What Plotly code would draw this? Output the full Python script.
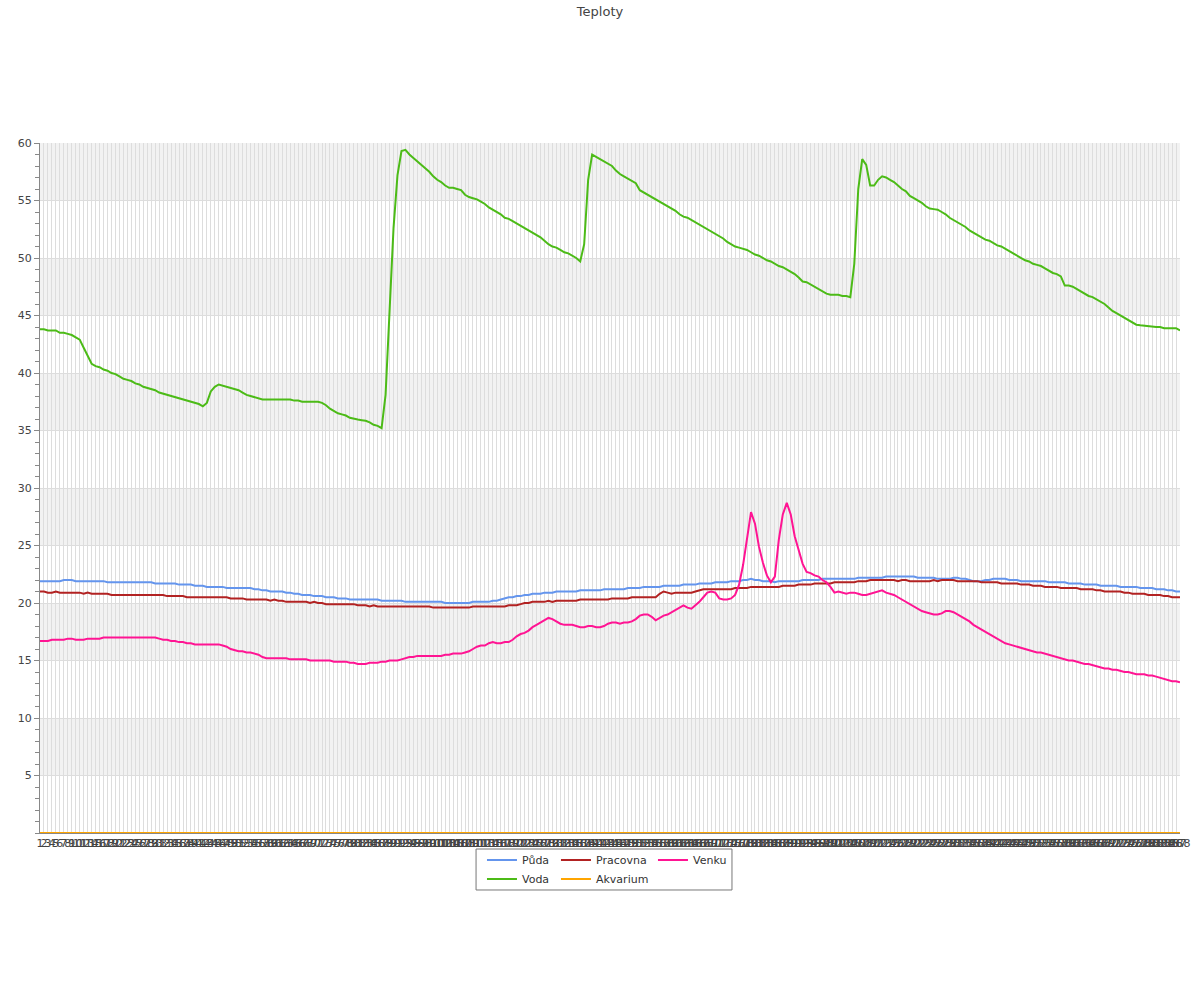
import plotly.graph_objects as go

# ---------------- data ----------------
categories = [str(i) for i in range(1, 289)]

puda = [
    21.9, 21.9, 21.9, 21.9, 21.9, 21.9, 22.0, 22.0, 22.0, 21.9,
    21.9, 21.9, 21.9, 21.9, 21.9, 21.9, 21.9, 21.8, 21.8, 21.8,
    21.8, 21.8, 21.8, 21.8, 21.8, 21.8, 21.8, 21.8, 21.8, 21.7,
    21.7, 21.7, 21.7, 21.7, 21.7, 21.6, 21.6, 21.6, 21.6, 21.5,
    21.5, 21.5, 21.4, 21.4, 21.4, 21.4, 21.4, 21.3, 21.3, 21.3,
    21.3, 21.3, 21.3, 21.3, 21.2, 21.2, 21.1, 21.1, 21.0, 21.0,
    21.0, 21.0, 20.9, 20.9, 20.8, 20.8, 20.7, 20.7, 20.7, 20.6,
    20.6, 20.6, 20.5, 20.5, 20.5, 20.4, 20.4, 20.4, 20.3, 20.3,
    20.3, 20.3, 20.3, 20.3, 20.3, 20.3, 20.2, 20.2, 20.2, 20.2,
    20.2, 20.2, 20.1, 20.1, 20.1, 20.1, 20.1, 20.1, 20.1, 20.1,
    20.1, 20.1, 20.0, 20.0, 20.0, 20.0, 20.0, 20.0, 20.0, 20.1,
    20.1, 20.1, 20.1, 20.1, 20.2, 20.2, 20.3, 20.4, 20.5, 20.5,
    20.6, 20.6, 20.7, 20.7, 20.8, 20.8, 20.8, 20.9, 20.9, 20.9,
    21.0, 21.0, 21.0, 21.0, 21.0, 21.0, 21.1, 21.1, 21.1, 21.1,
    21.1, 21.1, 21.2, 21.2, 21.2, 21.2, 21.2, 21.2, 21.3, 21.3,
    21.3, 21.3, 21.4, 21.4, 21.4, 21.4, 21.4, 21.5, 21.5, 21.5,
    21.5, 21.5, 21.6, 21.6, 21.6, 21.6, 21.7, 21.7, 21.7, 21.7,
    21.8, 21.8, 21.8, 21.8, 21.9, 21.9, 21.9, 22.0, 22.0, 22.1,
    22.0, 22.0, 21.9, 21.9, 21.9, 21.8, 21.9, 21.9, 21.9, 21.9,
    21.9, 21.9, 22.0, 22.0, 22.0, 22.0, 22.0, 22.1, 22.1, 22.1,
    22.1, 22.1, 22.1, 22.1, 22.1, 22.1, 22.2, 22.2, 22.2, 22.2,
    22.2, 22.2, 22.2, 22.3, 22.3, 22.3, 22.3, 22.3, 22.3, 22.3,
    22.3, 22.2, 22.2, 22.2, 22.2, 22.2, 22.1, 22.1, 22.1, 22.1,
    22.2, 22.2, 22.1, 22.1, 22.0, 21.9, 21.9, 21.9, 22.0, 22.0,
    22.1, 22.1, 22.1, 22.1, 22.0, 22.0, 22.0, 21.9, 21.9, 21.9,
    21.9, 21.9, 21.9, 21.9, 21.8, 21.8, 21.8, 21.8, 21.8, 21.7,
    21.7, 21.7, 21.7, 21.6, 21.6, 21.6, 21.6, 21.5, 21.5, 21.5,
    21.5, 21.5, 21.4, 21.4, 21.4, 21.4, 21.4, 21.3, 21.3, 21.3,
    21.3, 21.2, 21.2, 21.2, 21.1, 21.1, 21.0, 21.0,
]

pracovna = [
    21.0, 21.0, 20.9, 20.9, 21.0, 20.9, 20.9, 20.9, 20.9, 20.9,
    20.9, 20.8, 20.9, 20.8, 20.8, 20.8, 20.8, 20.8, 20.7, 20.7,
    20.7, 20.7, 20.7, 20.7, 20.7, 20.7, 20.7, 20.7, 20.7, 20.7,
    20.7, 20.7, 20.6, 20.6, 20.6, 20.6, 20.6, 20.5, 20.5, 20.5,
    20.5, 20.5, 20.5, 20.5, 20.5, 20.5, 20.5, 20.5, 20.4, 20.4,
    20.4, 20.4, 20.3, 20.3, 20.3, 20.3, 20.3, 20.3, 20.2, 20.3,
    20.2, 20.2, 20.1, 20.1, 20.1, 20.1, 20.1, 20.1, 20.0, 20.1,
    20.0, 20.0, 19.9, 19.9, 19.9, 19.9, 19.9, 19.9, 19.9, 19.9,
    19.8, 19.8, 19.8, 19.7, 19.8, 19.7, 19.7, 19.7, 19.7, 19.7,
    19.7, 19.7, 19.7, 19.7, 19.7, 19.7, 19.7, 19.7, 19.7, 19.6,
    19.6, 19.6, 19.6, 19.6, 19.6, 19.6, 19.6, 19.6, 19.6, 19.7,
    19.7, 19.7, 19.7, 19.7, 19.7, 19.7, 19.7, 19.7, 19.8, 19.8,
    19.8, 19.9, 20.0, 20.0, 20.1, 20.1, 20.1, 20.1, 20.2, 20.1,
    20.2, 20.2, 20.2, 20.2, 20.2, 20.2, 20.3, 20.3, 20.3, 20.3,
    20.3, 20.3, 20.3, 20.3, 20.4, 20.4, 20.4, 20.4, 20.4, 20.5,
    20.5, 20.5, 20.5, 20.5, 20.5, 20.5, 20.8, 21.0, 20.9, 20.8,
    20.9, 20.9, 20.9, 20.9, 20.9, 21.0, 21.1, 21.2, 21.2, 21.2,
    21.2, 21.2, 21.2, 21.2, 21.2, 21.3, 21.3, 21.3, 21.3, 21.4,
    21.4, 21.4, 21.4, 21.4, 21.4, 21.4, 21.4, 21.5, 21.5, 21.5,
    21.5, 21.6, 21.6, 21.6, 21.6, 21.7, 21.7, 21.7, 21.7, 21.7,
    21.8, 21.8, 21.8, 21.8, 21.8, 21.8, 21.9, 21.9, 21.9, 22.0,
    22.0, 22.0, 22.0, 22.0, 22.0, 22.0, 21.9, 22.0, 22.0, 21.9,
    21.9, 21.9, 21.9, 21.9, 21.9, 22.0, 21.9, 22.0, 22.0, 22.0,
    22.0, 21.9, 21.9, 21.9, 21.9, 21.9, 21.9, 21.8, 21.8, 21.8,
    21.8, 21.8, 21.7, 21.7, 21.7, 21.7, 21.7, 21.6, 21.6, 21.6,
    21.5, 21.5, 21.5, 21.4, 21.4, 21.4, 21.4, 21.3, 21.3, 21.3,
    21.3, 21.3, 21.2, 21.2, 21.2, 21.2, 21.1, 21.1, 21.0, 21.0,
    21.0, 21.0, 21.0, 20.9, 20.9, 20.8, 20.8, 20.8, 20.8, 20.7,
    20.7, 20.7, 20.7, 20.6, 20.6, 20.5, 20.5, 20.5,
]

venku = [
    16.7, 16.7, 16.7, 16.8, 16.8, 16.8, 16.8, 16.9, 16.9, 16.8,
    16.8, 16.8, 16.9, 16.9, 16.9, 16.9, 17.0, 17.0, 17.0, 17.0,
    17.0, 17.0, 17.0, 17.0, 17.0, 17.0, 17.0, 17.0, 17.0, 17.0,
    16.9, 16.8, 16.8, 16.7, 16.7, 16.6, 16.6, 16.5, 16.5, 16.4,
    16.4, 16.4, 16.4, 16.4, 16.4, 16.4, 16.3, 16.2, 16.0, 15.9,
    15.8, 15.8, 15.7, 15.7, 15.6, 15.5, 15.3, 15.2, 15.2, 15.2,
    15.2, 15.2, 15.2, 15.1, 15.1, 15.1, 15.1, 15.1, 15.0, 15.0,
    15.0, 15.0, 15.0, 15.0, 14.9, 14.9, 14.9, 14.9, 14.8, 14.8,
    14.7, 14.7, 14.7, 14.8, 14.8, 14.8, 14.9, 14.9, 15.0, 15.0,
    15.0, 15.1, 15.2, 15.3, 15.3, 15.4, 15.4, 15.4, 15.4, 15.4,
    15.4, 15.4, 15.5, 15.5, 15.6, 15.6, 15.6, 15.7, 15.8, 16.0,
    16.2, 16.3, 16.3, 16.5, 16.6, 16.5, 16.5, 16.6, 16.6, 16.8,
    17.1, 17.3, 17.4, 17.6, 17.9, 18.1, 18.3, 18.5, 18.7, 18.6,
    18.4, 18.2, 18.1, 18.1, 18.1, 18.0, 17.9, 17.9, 18.0, 18.0,
    17.9, 17.9, 18.0, 18.2, 18.3, 18.3, 18.2, 18.3, 18.3, 18.4,
    18.6, 18.9, 19.0, 19.0, 18.8, 18.5, 18.7, 18.9, 19.0, 19.2,
    19.4, 19.6, 19.8, 19.6, 19.5, 19.8, 20.1, 20.5, 20.9, 21.0,
    20.9, 20.4, 20.3, 20.3, 20.4, 20.7, 21.6, 23.3, 25.5, 27.9,
    26.9, 24.9, 23.5, 22.4, 21.8, 22.3, 25.5, 27.7, 28.7, 27.7,
    25.8, 24.5, 23.4, 22.7, 22.6, 22.4, 22.3, 22.0, 21.8, 21.4,
    20.9, 21.0, 20.9, 20.8, 20.9, 20.9, 20.8, 20.7, 20.7, 20.8,
    20.9, 21.0, 21.1, 20.9, 20.8, 20.7, 20.5, 20.3, 20.1, 19.9,
    19.7, 19.5, 19.3, 19.2, 19.1, 19.0, 19.0, 19.1, 19.3, 19.3,
    19.2, 19.0, 18.8, 18.6, 18.4, 18.1, 17.9, 17.7, 17.5, 17.3,
    17.1, 16.9, 16.7, 16.5, 16.4, 16.3, 16.2, 16.1, 16.0, 15.9,
    15.8, 15.7, 15.7, 15.6, 15.5, 15.4, 15.3, 15.2, 15.1, 15.0,
    15.0, 14.9, 14.8, 14.7, 14.7, 14.6, 14.5, 14.4, 14.3, 14.3,
    14.2, 14.2, 14.1, 14.0, 14.0, 13.9, 13.8, 13.8, 13.8, 13.7,
    13.7, 13.6, 13.5, 13.4, 13.3, 13.2, 13.2, 13.1,
]

voda = [
    43.8, 43.8, 43.7, 43.7, 43.7, 43.5, 43.5, 43.4, 43.3, 43.1,
    42.9, 42.2, 41.5, 40.8, 40.6, 40.5, 40.3, 40.2, 40.0, 39.9,
    39.7, 39.5, 39.4, 39.3, 39.1, 39.0, 38.8, 38.7, 38.6, 38.5,
    38.3, 38.2, 38.1, 38.0, 37.9, 37.8, 37.7, 37.6, 37.5, 37.4,
    37.3, 37.1, 37.4, 38.4, 38.8, 39.0, 38.9, 38.8, 38.7, 38.6,
    38.5, 38.3, 38.1, 38.0, 37.9, 37.8, 37.7, 37.7, 37.7, 37.7,
    37.7, 37.7, 37.7, 37.7, 37.6, 37.6, 37.5, 37.5, 37.5, 37.5,
    37.5, 37.4, 37.2, 36.9, 36.7, 36.5, 36.4, 36.3, 36.1, 36.0,
    35.95, 35.9, 35.85, 35.7, 35.5, 35.4, 35.2, 38.1, 45.0, 52.6,
    57.2, 59.3, 59.4, 59.0, 58.7, 58.4, 58.1, 57.8, 57.5, 57.1,
    56.8, 56.6, 56.3, 56.1, 56.1, 56.0, 55.9, 55.5, 55.3, 55.2,
    55.1, 54.9, 54.7, 54.4, 54.2, 54.0, 53.8, 53.5, 53.4, 53.2,
    53.0, 52.8, 52.6, 52.4, 52.2, 52.0, 51.8, 51.5, 51.2, 51.0,
    50.9, 50.7, 50.5, 50.4, 50.2, 50.0, 49.7, 51.2, 56.8, 59.0,
    58.8, 58.6, 58.4, 58.2, 58.0, 57.6, 57.3, 57.1, 56.9, 56.7,
    56.5, 55.9, 55.7, 55.5, 55.3, 55.1, 54.9, 54.7, 54.5, 54.3,
    54.1, 53.8, 53.6, 53.5, 53.3, 53.1, 52.9, 52.7, 52.5, 52.3,
    52.1, 51.9, 51.7, 51.4, 51.2, 51.0, 50.9, 50.8, 50.7, 50.5,
    50.3, 50.2, 50.0, 49.8, 49.7, 49.5, 49.3, 49.2, 49.0, 48.8,
    48.6, 48.3, 47.95, 47.9, 47.7, 47.5, 47.3, 47.1, 46.9, 46.8,
    46.8, 46.8, 46.7, 46.7, 46.6, 49.5, 56.0, 58.6, 58.1, 56.3,
    56.3, 56.8, 57.1, 57.0, 56.8, 56.6, 56.3, 56.0, 55.8, 55.4,
    55.2, 55.0, 54.8, 54.5, 54.3, 54.25, 54.2, 54.0, 53.8, 53.5,
    53.3, 53.1, 52.9, 52.7, 52.4, 52.2, 52.0, 51.8, 51.6, 51.5,
    51.3, 51.1, 51.0, 50.8, 50.6, 50.4, 50.2, 50.0, 49.8, 49.7,
    49.5, 49.4, 49.3, 49.1, 48.9, 48.7, 48.6, 48.4, 47.6, 47.6,
    47.5, 47.3, 47.1, 46.9, 46.7, 46.6, 46.4, 46.2, 46.0, 45.7,
    45.4, 45.2, 45.0, 44.8, 44.6, 44.4, 44.2, 44.15, 44.1, 44.1,
    44.05, 44.0, 44.0, 43.9, 43.9, 43.9, 43.9, 43.7,
]

akvarium = [
    0, 0, 0, 0, 0, 0, 0, 0, 0, 0, 0, 0, 0, 0, 0, 0, 0, 0, 0, 0, 0, 0, 0, 0,
    0, 0, 0, 0, 0, 0, 0, 0, 0, 0, 0, 0, 0, 0, 0, 0, 0, 0, 0, 0, 0, 0, 0, 0,
    0, 0, 0, 0, 0, 0, 0, 0, 0, 0, 0, 0, 0, 0, 0, 0, 0, 0, 0, 0, 0, 0, 0, 0,
    0, 0, 0, 0, 0, 0, 0, 0, 0, 0, 0, 0, 0, 0, 0, 0, 0, 0, 0, 0, 0, 0, 0, 0,
    0, 0, 0, 0, 0, 0, 0, 0, 0, 0, 0, 0, 0, 0, 0, 0, 0, 0, 0, 0, 0, 0, 0, 0,
    0, 0, 0, 0, 0, 0, 0, 0, 0, 0, 0, 0, 0, 0, 0, 0, 0, 0, 0, 0, 0, 0, 0, 0,
    0, 0, 0, 0, 0, 0, 0, 0, 0, 0, 0, 0, 0, 0, 0, 0, 0, 0, 0, 0, 0, 0, 0, 0,
    0, 0, 0, 0, 0, 0, 0, 0, 0, 0, 0, 0, 0, 0, 0, 0, 0, 0, 0, 0, 0, 0, 0, 0,
    0, 0, 0, 0, 0, 0, 0, 0, 0, 0, 0, 0, 0, 0, 0, 0, 0, 0, 0, 0, 0, 0, 0, 0,
    0, 0, 0, 0, 0, 0, 0, 0, 0, 0, 0, 0, 0, 0, 0, 0, 0, 0, 0, 0, 0, 0, 0, 0,
    0, 0, 0, 0, 0, 0, 0, 0, 0, 0, 0, 0, 0, 0, 0, 0, 0, 0, 0, 0, 0, 0, 0, 0,
    0, 0, 0, 0, 0, 0, 0, 0, 0, 0, 0, 0, 0, 0, 0, 0, 0, 0, 0, 0, 0, 0, 0, 0,
]

y_ticks = [5, 10, 15, 20, 25, 30, 35, 40, 45, 50, 55, 60]
band_starts = [5, 15, 25, 35, 45, 55]

for s in (puda, pracovna, venku, voda, akvarium):
    assert len(s) == len(categories), len(s)

# ---------------- figure ----------------
FONT = "DejaVu Sans"
fig = go.Figure()

series = [
    ("Půda", puda, "#6495ED", "legend", 2),
    ("Voda", voda, "#4cbb17", "legend", 2),
    ("Pracovna", pracovna, "#B22222", "legend2", 2),
    ("Akvarium", akvarium, "#FFA500", "legend2", 2),
    ("Venku", venku, "#FF1493", "legend3", 2),
]
for name, vals, color, leg, w in series:
    fig.add_trace(go.Scatter(
        x=categories, y=vals, name=name, mode="lines",
        line=dict(color=color, width=w), legend=leg,
    ))

shapes = []
for b in band_starts:
    shapes.append(dict(type="rect", xref="paper", yref="y", x0=0, x1=1,
                       y0=b, y1=b + 5, fillcolor="#f2f2f2",
                       line=dict(width=0), layer="below"))
# legend frame
shapes.append(dict(type="rect", xref="paper", yref="paper",
                   x0=0.3825, x1=0.6070, y0=-0.0232, y1=-0.0826,
                   line=dict(color="#777777", width=1), fillcolor="rgba(0,0,0,0)",
                   layer="above"))

leg_common = dict(orientation="v", xanchor="left", yanchor="top", y=-0.0181,
                  bgcolor="rgba(0,0,0,0)", borderwidth=0,
                  font=dict(family=FONT, size=11, color="#333333"))

fig.update_layout(
    width=1200, height=1000,
    margin=dict(l=40, r=20, t=143, b=167, autoexpand=False),
    paper_bgcolor="white", plot_bgcolor="white",
    font=dict(family=FONT, size=11, color="#444444"),
    title=dict(text="Teploty", x=0.5, xanchor="center", y=0.989, yanchor="middle",
               xref="container", yref="container",
               font=dict(family=FONT, size=13, color="#444444")),
    shapes=shapes,
    showlegend=True,
    legend=dict(x=0.3877, **leg_common),
    legend2=dict(x=0.4526, **leg_common),
    legend3=dict(x=0.5377, **leg_common),
    xaxis=dict(
        type="category", range=[0, len(categories) - 1],
        tickmode="linear", tick0=0, dtick=1, tickangle=0,
        showgrid=True, gridcolor="#dddddd", gridwidth=1,
        showline=True, linecolor="#888888", linewidth=1,
        ticks="", zeroline=False,
        tickfont=dict(family=FONT, size=11, color="#444444"),
    ),
    yaxis=dict(
        range=[0, 60], tickmode="array", tickvals=y_ticks,
        showgrid=True, gridcolor="#dddddd", gridwidth=1,
        showline=True, linecolor="#888888", linewidth=1,
        ticks="outside", ticklen=5, tickcolor="#888888",
        minor=dict(dtick=1, tick0=0, ticks="outside", ticklen=4,
                   tickcolor="#888888", showgrid=False),
        zeroline=False,
        tickfont=dict(family=FONT, size=11, color="#444444"),
    ),
)

# remove the default 8 px page margin so the 1200x1000 figure fills the window
fig.write_html("out.html", config={"displayModeBar": False},
               post_script="document.body.style.margin='0';")
